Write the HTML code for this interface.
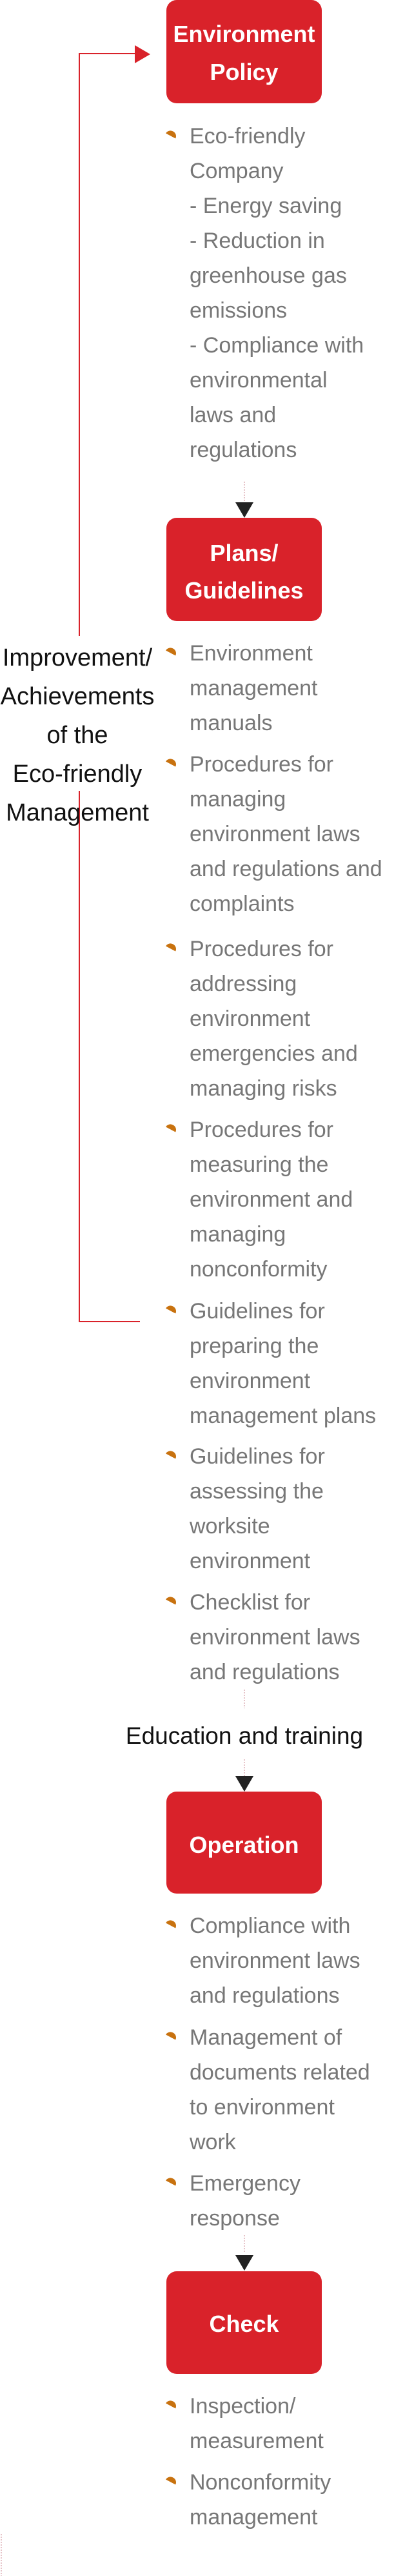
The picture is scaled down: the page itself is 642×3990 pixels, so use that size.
<!DOCTYPE html>
<html><head><meta charset="utf-8"><style>
html,body{margin:0;padding:0;background:#fff;}
body{width:642px;height:3990px;position:relative;overflow:hidden;font-family:"Liberation Sans",sans-serif;}
.box{position:absolute;left:258px;width:241px;background:#d9222a;border-radius:16px;color:#fff;font-weight:bold;font-size:36px;text-align:center;}
.box span{position:absolute;left:0;width:100%;line-height:50px;}
.it{position:absolute;left:294px;font-size:34px;line-height:54px;color:#777;white-space:nowrap;}
.leaf{position:absolute;left:258px;width:17px;height:8px;background:#c8720f;border-radius:50% 50% 50% 50%/100% 100% 0 0;transform:rotate(28deg);}
.dot{position:absolute;left:378px;width:2px;background:repeating-linear-gradient(#e6c3c8 0 2px,transparent 2px 4px);}
.tri{position:absolute;left:365px;width:0;height:0;border-left:14px solid transparent;border-right:14px solid transparent;border-top:24px solid #222;}
.red{position:absolute;background:#d9222a;}
.lbl{position:absolute;color:#111;font-size:38px;line-height:60px;text-align:center;white-space:nowrap;}
</style></head><body>

<!-- loop -->
<div class="red" style="left:122px;top:82px;width:2px;height:903px"></div>
<div class="red" style="left:122px;top:1225px;width:2px;height:823px"></div>
<div class="red" style="left:122px;top:82px;width:90px;height:2px"></div>
<div style="position:absolute;left:209px;top:70px;width:0;height:0;border-top:14px solid transparent;border-bottom:14px solid transparent;border-left:24px solid #d9222a"></div>
<div class="red" style="left:122px;top:2046px;width:95px;height:2px"></div>
<div class="lbl" style="left:0;width:240px;top:989px">Improvement/<br>Achievements<br>of the<br>Eco-friendly<br>Management</div>

<!-- Box 1 -->
<div class="box" style="top:0;height:160px"><span style="top:28px">Environment</span><span style="top:87px">Policy</span></div>
<div class="leaf" style="top:203px"></div>
<div class="it" style="top:184px">Eco-friendly<br>Company<br>- Energy saving<br>- Reduction in<br>greenhouse gas<br>emissions<br>- Compliance with<br>environmental<br>laws and<br>regulations</div>

<div class="dot" style="top:746px;height:32px"></div>
<div class="tri" style="top:778px"></div>

<!-- Box 2 -->
<div class="box" style="top:802px;height:160px"><span style="top:30px">Plans/</span><span style="top:88px">Guidelines</span></div>
<div class="leaf" style="top:1004px"></div>
<div class="it" style="top:985px">Environment<br>management<br>manuals</div>
<div class="leaf" style="top:1176px"></div>
<div class="it" style="top:1157px">Procedures for<br>managing<br>environment laws<br>and regulations and<br>complaints</div>
<div class="leaf" style="top:1462px"></div>
<div class="it" style="top:1443px">Procedures for<br>addressing<br>environment<br>emergencies and<br>managing risks</div>
<div class="leaf" style="top:1742px"></div>
<div class="it" style="top:1723px">Procedures for<br>measuring the<br>environment and<br>managing<br>nonconformity</div>
<div class="leaf" style="top:2023px"></div>
<div class="it" style="top:2004px">Guidelines for<br>preparing the<br>environment<br>management plans</div>
<div class="leaf" style="top:2248px"></div>
<div class="it" style="top:2229px">Guidelines for<br>assessing the<br>worksite<br>environment</div>
<div class="leaf" style="top:2474px"></div>
<div class="it" style="top:2455px">Checklist for<br>environment laws<br>and regulations</div>

<div class="dot" style="top:2617px;height:29px"></div>
<div class="lbl" style="left:0;width:758px;top:2659px;font-size:37px">Education and training</div>
<div class="dot" style="top:2725px;height:26px"></div>
<div class="tri" style="top:2751px"></div>

<!-- Box 3 -->
<div class="box" style="top:2775px;height:158px"><span style="top:58px">Operation</span></div>
<div class="leaf" style="top:2975px"></div>
<div class="it" style="top:2956px">Compliance with<br>environment laws<br>and regulations</div>
<div class="leaf" style="top:3148px"></div>
<div class="it" style="top:3129px">Management of<br>documents related<br>to environment<br>work</div>
<div class="leaf" style="top:3374px"></div>
<div class="it" style="top:3355px">Emergency<br>response</div>

<div class="dot" style="top:3462px;height:28px"></div>
<div class="tri" style="top:3493px"></div>

<!-- Box 4 -->
<div class="box" style="top:3518px;height:159px"><span style="top:57px">Check</span></div>
<div class="leaf" style="top:3719px"></div>
<div class="it" style="top:3700px">Inspection/<br>measurement</div>
<div class="leaf" style="top:3837px"></div>
<div class="it" style="top:3818px">Nonconformity<br>management</div>

<div class="dot" style="left:1px;top:3925px;height:65px"></div>
</body></html>
